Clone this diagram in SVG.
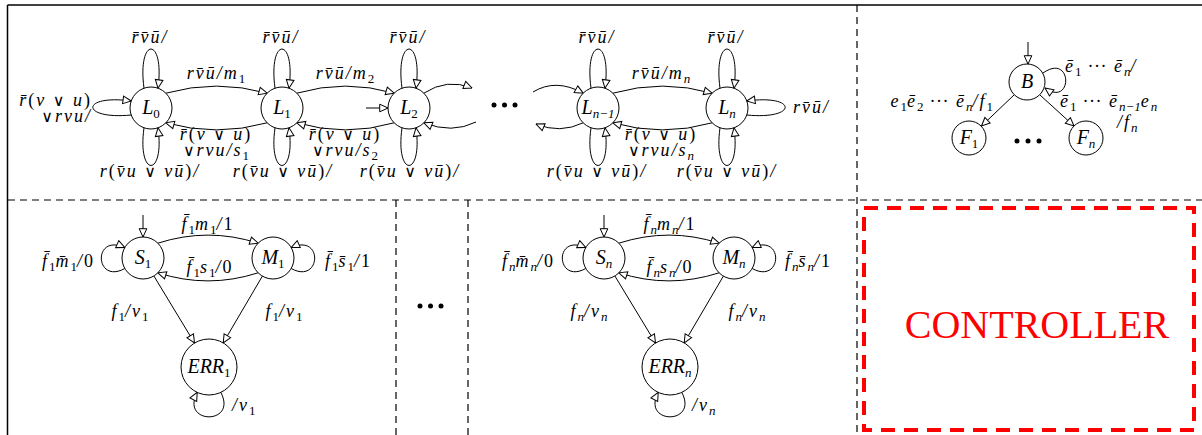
<svg xmlns="http://www.w3.org/2000/svg" width="1202" height="435" viewBox="0 0 1202 435">
<style>
.e{font-family:"Liberation Serif","Times New Roman",serif;font-style:italic;font-size:18px;letter-spacing:2px;fill:#000}
.nl{font-family:"Liberation Serif","Times New Roman",serif;font-style:italic;font-size:20px;fill:#000;text-anchor:middle}
.m{text-anchor:middle}
.r{text-anchor:end}
.s{font-size:13px;baseline-shift:-4px;letter-spacing:0}
.u{font-style:normal}
.o{font-family:"DejaVu Sans",sans-serif;font-style:normal;font-size:16px}
.c{fill:#fff;stroke:#000;stroke-width:1}
.ed{fill:none;stroke:#000;stroke-width:1;marker-end:url(#ar)}
.dl{fill:none;stroke:#000;stroke-width:1.2;stroke-dasharray:7 5}
.dot{fill:#000}
.ctl{font-family:"Liberation Serif","Times New Roman",serif;font-size:40px;fill:#f00;text-anchor:middle}
</style>
<defs>
<marker id="ar" viewBox="0 0 10 10" refX="9.5" refY="5" markerWidth="10" markerHeight="10" orient="auto" markerUnits="userSpaceOnUse">
<path d="M1.2,1.2 L9.5,5 L1.2,8.8 Z" fill="#fff" stroke="#000" stroke-width="1"/>
</marker>
</defs>
<rect width="1202" height="435" fill="#fff"/>
<g id="frame">
<line x1="7.5" y1="5" x2="1202" y2="5" stroke="#000" stroke-width="1.5"/>
<line x1="7.5" y1="5" x2="7.5" y2="435" stroke="#000" stroke-width="1.5"/>
<line class="dl" x1="8" y1="200" x2="1202" y2="200"/>
<line class="dl" x1="857" y1="5" x2="857" y2="435"/>
<line class="dl" x1="396" y1="200" x2="396" y2="435"/>
<line class="dl" x1="468" y1="200" x2="468" y2="435"/>
</g>
<g id="connectors">
<path class="ed" d="M144,88.2 C137,36 165,36 158,88.2"/>
<path class="ed" d="M275,88.2 C268,36 296,36 289,88.2"/>
<path class="ed" d="M402,88.2 C395,36 423,36 416,88.2"/>
<path class="ed" d="M591,88.2 C584,36 612,36 605,88.2"/>
<path class="ed" d="M720,88.2 C713,36 741,36 734,88.2"/>
<path class="ed" d="M144,127.8 C137,178 165,178 158,127.8"/>
<path class="ed" d="M275,127.8 C268,178 296,178 289,127.8"/>
<path class="ed" d="M402,127.8 C395,178 423,178 416,127.8"/>
<path class="ed" d="M591,127.8 C584,178 612,178 605,127.8"/>
<path class="ed" d="M720,127.8 C713,178 741,178 734,127.8"/>
<path class="ed" d="M131.3,115 C80,120 80,94 131.3,101"/>
<path class="ed" d="M746.7,115 C798,120 798,94 746.7,101"/>
<path class="ed" d="M165.8,93.2 Q216.5,79 267.2,93.2"/>
<path class="ed" d="M267.2,122.8 Q216.5,137 165.8,122.8"/>
<path class="ed" d="M296.8,93.2 Q345.5,79 394.2,93.2"/>
<path class="ed" d="M394.2,122.8 Q345.5,137 296.8,122.8"/>
<path class="ed" d="M612.8,93.2 Q662.5,79 712.2,93.2"/>
<path class="ed" d="M712.2,122.8 Q662.5,137 612.8,122.8"/>
<path class="ed" d="M366,108 L388,108"/>
<path class="ed" d="M423.8,93.2 Q447,78 472,88"/>
<path class="ed" d="M476,122 Q452,134 423.8,122.8"/>
<path class="ed" d="M533,92 Q556,78 583.2,93.2"/>
<path class="ed" d="M583.2,122.8 Q560,134 536,124"/>
<path class="ed" d="M1028,42 L1028,64"/>
<path class="ed" d="M1043,73 C1073,52 1073,108 1045,88"/>
<path class="ed" d="M1014,95 L981.5,126"/>
<path class="ed" d="M1040,95 L1074,126"/>
<path class="ed" d="M143,215 L143,237"/>
<path class="ed" d="M124.8,268.5 C95,285 92,233 124.8,247.5"/>
<path class="ed" d="M291.2,268.5 C321,285 324,233 291.2,247.5"/>
<path class="ed" d="M157.8,243.2 Q208,227 258.2,243.2"/>
<path class="ed" d="M258.2,272.8 Q208,289 157.8,272.8"/>
<path class="ed" d="M153.9,276 L194.5,343"/>
<path class="ed" d="M262.4,276.1 L223.2,342.9"/>
<path class="ed" d="M220.8,392.4 C238,425 180,425 197.2,392.4"/>
<path class="ed" d="M604,215 L604,237"/>
<path class="ed" d="M585.8,268.5 C556,285 553,233 585.8,247.5"/>
<path class="ed" d="M752.2,268.5 C782,285 785,233 752.2,247.5"/>
<path class="ed" d="M618.8,243.2 Q669,227 719.2,243.2"/>
<path class="ed" d="M719.2,272.8 Q669,289 618.8,272.8"/>
<path class="ed" d="M614.9,276 L655.5,343"/>
<path class="ed" d="M723.4,276.1 L684.2,342.9"/>
<path class="ed" d="M681.8,392.4 C699,425 641,425 658.2,392.4"/>
</g>
<g id="L0"><circle class="c" cx="151" cy="108" r="21"/><text class="nl" x="151" y="114">L<tspan class="s u">0</tspan></text></g>
<g id="L1"><circle class="c" cx="282" cy="108" r="21"/><text class="nl" x="282" y="114">L<tspan class="s u">1</tspan></text></g>
<g id="L2"><circle class="c" cx="409" cy="108" r="21"/><text class="nl" x="409" y="114">L<tspan class="s u">2</tspan></text></g>
<g id="Ln1"><circle class="c" cx="598" cy="108" r="21"/><text class="nl" x="598" y="114">L<tspan class="s">n−1</tspan></text></g>
<g id="Ln"><circle class="c" cx="727" cy="108" r="21"/><text class="nl" x="727" y="114">L<tspan class="s">n</tspan></text></g>
<g id="B"><circle class="c" cx="1027" cy="82" r="18"/><text class="nl" x="1027" y="88">B</text></g>
<g id="F1"><circle class="c" cx="969" cy="138" r="17"/><text class="nl" x="969" y="144">F<tspan class="s u">1</tspan></text></g>
<g id="Fn"><circle class="c" cx="1086" cy="138" r="17"/><text class="nl" x="1086" y="144">F<tspan class="s">n</tspan></text></g>
<g id="S1"><circle class="c" cx="143" cy="258" r="21"/><text class="nl" x="143" y="264">S<tspan class="s u">1</tspan></text></g>
<g id="M1"><circle class="c" cx="273" cy="258" r="21"/><text class="nl" x="273" y="264">M<tspan class="s u">1</tspan></text></g>
<g id="ERR1"><circle class="c" cx="209" cy="367" r="28"/><text class="nl" x="209" y="373">ERR<tspan class="s u">1</tspan></text></g>
<g id="Sn"><circle class="c" cx="604" cy="258" r="21"/><text class="nl" x="604" y="264">S<tspan class="s">n</tspan></text></g>
<g id="Mn"><circle class="c" cx="734" cy="258" r="21"/><text class="nl" x="734" y="264">M<tspan class="s">n</tspan></text></g>
<g id="ERRn"><circle class="c" cx="670" cy="367" r="28"/><text class="nl" x="670" y="373">ERR<tspan class="s">n</tspan></text></g>
<g id="dots">
<circle class="dot" cx="494" cy="105" r="2.5"/><circle class="dot" cx="504.5" cy="105" r="2.5"/><circle class="dot" cx="515" cy="105" r="2.5"/>
<circle class="dot" cx="1017" cy="141" r="2.5"/><circle class="dot" cx="1028" cy="141" r="2.5"/><circle class="dot" cx="1039" cy="141" r="2.5"/>
<circle class="dot" cx="420" cy="306" r="2.5"/><circle class="dot" cx="430.5" cy="306" r="2.5"/><circle class="dot" cx="441" cy="306" r="2.5"/>
</g>
<g id="labels">
<text class="e m" x="150" y="43">r̄v̄ū/</text>
<text class="e m" x="281" y="43">r̄v̄ū/</text>
<text class="e m" x="408" y="43">r̄v̄ū/</text>
<text class="e m" x="597" y="43">r̄v̄ū/</text>
<text class="e m" x="726" y="43">r̄v̄ū/</text>
<text class="e m" x="150" y="177">r<tspan class="u">(</tspan>v̄u <tspan class="o">∨</tspan> vū<tspan class="u">)</tspan>/</text>
<text class="e m" x="283" y="177">r<tspan class="u">(</tspan>v̄u <tspan class="o">∨</tspan> vū<tspan class="u">)</tspan>/</text>
<text class="e m" x="410" y="177">r<tspan class="u">(</tspan>v̄u <tspan class="o">∨</tspan> vū<tspan class="u">)</tspan>/</text>
<text class="e m" x="597" y="177">r<tspan class="u">(</tspan>v̄u <tspan class="o">∨</tspan> vū<tspan class="u">)</tspan>/</text>
<text class="e m" x="727" y="177">r<tspan class="u">(</tspan>v̄u <tspan class="o">∨</tspan> vū<tspan class="u">)</tspan>/</text>
<text class="e r" x="92" y="106">r̄<tspan class="u">(</tspan>v <tspan class="o">∨</tspan> u<tspan class="u">)</tspan></text>
<text class="e r" x="92" y="122"><tspan class="o">∨</tspan>rvu/</text>
<text class="e" x="793" y="113">rv̄ū/</text>
<text class="e m" x="216" y="79">rv̄ū/m<tspan class="s u">1</tspan></text>
<text class="e m" x="216" y="140">r̄<tspan class="u">(</tspan>v <tspan class="o">∨</tspan> u<tspan class="u">)</tspan></text>
<text class="e m" x="216" y="156"><tspan class="o">∨</tspan>rvu/s<tspan class="s u">1</tspan></text>
<text class="e m" x="345" y="79">rv̄ū/m<tspan class="s u">2</tspan></text>
<text class="e m" x="345" y="140">r̄<tspan class="u">(</tspan>v <tspan class="o">∨</tspan> u<tspan class="u">)</tspan></text>
<text class="e m" x="345" y="156"><tspan class="o">∨</tspan>rvu/s<tspan class="s u">2</tspan></text>
<text class="e m" x="661" y="79">rv̄ū/m<tspan class="s">n</tspan></text>
<text class="e m" x="661" y="140">r̄<tspan class="u">(</tspan>v <tspan class="o">∨</tspan> u<tspan class="u">)</tspan></text>
<text class="e m" x="661" y="156"><tspan class="o">∨</tspan>rvu/s<tspan class="s">n</tspan></text>
<text class="e" x="1065" y="72">ē<tspan class="s u">1</tspan> ··· ē<tspan class="s">n</tspan>/</text>
<text class="e r" x="993" y="107">e<tspan class="s u">1</tspan>ē<tspan class="s u">2</tspan> ··· ē<tspan class="s">n</tspan>/f<tspan class="s u">1</tspan></text>
<text class="e" x="1060" y="107">ē<tspan class="s u">1</tspan> ··· ē<tspan class="s">n−1</tspan>e<tspan class="s">n</tspan></text>
<text class="e" x="1117" y="128">/f<tspan class="s">n</tspan></text>
<text class="e m" x="208" y="230">f̄<tspan class="s u">1</tspan>m<tspan class="s u">1</tspan>/<tspan class="u">1</tspan></text>
<text class="e m" x="210" y="273">f̄<tspan class="s u">1</tspan>s<tspan class="s u">1</tspan>/<tspan class="u">0</tspan></text>
<text class="e r" x="95" y="267">f̄<tspan class="s u">1</tspan>m̄<tspan class="s u">1</tspan>/<tspan class="u">0</tspan></text>
<text class="e" x="325" y="267">f̄<tspan class="s u">1</tspan>s̄<tspan class="s u">1</tspan>/<tspan class="u">1</tspan></text>
<text class="e m" x="130" y="317">f<tspan class="s u">1</tspan>/v<tspan class="s u">1</tspan></text>
<text class="e m" x="284" y="317">f<tspan class="s u">1</tspan>/v<tspan class="s u">1</tspan></text>
<text class="e" x="232" y="411">/v<tspan class="s u">1</tspan></text>
<text class="e m" x="670" y="230">f̄<tspan class="s">n</tspan>m<tspan class="s">n</tspan>/<tspan class="u">1</tspan></text>
<text class="e m" x="670" y="273">f̄<tspan class="s">n</tspan>s<tspan class="s">n</tspan>/<tspan class="u">0</tspan></text>
<text class="e r" x="555" y="267">f̄<tspan class="s">n</tspan>m̄<tspan class="s">n</tspan>/<tspan class="u">0</tspan></text>
<text class="e" x="785" y="267">f̄<tspan class="s">n</tspan>s̄<tspan class="s">n</tspan>/<tspan class="u">1</tspan></text>
<text class="e m" x="589" y="317">f<tspan class="s">n</tspan>/v<tspan class="s">n</tspan></text>
<text class="e m" x="747" y="317">f<tspan class="s">n</tspan>/v<tspan class="s">n</tspan></text>
<text class="e" x="692" y="411">/v<tspan class="s">n</tspan></text>
</g>
<g id="controller">
<rect x="864" y="208" width="330" height="222" fill="none" stroke="#f00" stroke-width="4" stroke-dasharray="14 9"/>
<text class="ctl" x="1037" y="338">CONTROLLER</text>
</g>
</svg>
